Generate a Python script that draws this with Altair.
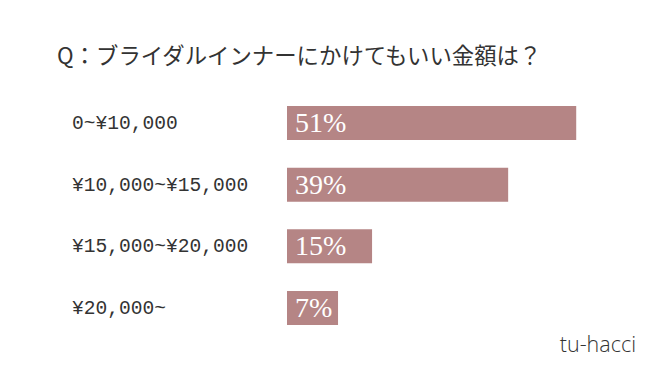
import altair as alt
import pandas as pd

categories = ["0~¥10,000", "¥10,000~¥15,000", "¥15,000~¥20,000", "¥20,000~"]
values = [51, 39, 15, 7]
labels = ["51%", "39%", "15%", "7%"]
title_text = ["Q：ブライダルインナーにかけてもいい金額は？"]
credit_text = ["tu-hacci"]

df = pd.DataFrame({"cat": categories, "value": values, "label": labels})

W, H = 634, 349
xscale = alt.Scale(domain=[0, 62.6], range=[279, W])
yscale = alt.Scale(domain=categories, range=[84.2, 330.8], paddingInner=0.45, paddingOuter=0.225)

base = alt.Chart(df)

# minimum drawn length so the label fits inside the bar (as in the original)
bars = base.transform_calculate(
    shown="max(datum.value, 9)"
).mark_bar(color="#b58585", cornerRadius=0).encode(
    x=alt.X("shown:Q", scale=xscale, axis=None),
    x2=alt.X2(datum=0),
    y=alt.Y("cat:N", scale=yscale, axis=None, sort=categories),
)

pct = base.mark_text(
    align="left", baseline="middle", font="Liberation Serif", fontSize=28,
    color="white", dx=8, dy=1,
).encode(
    x=alt.X(datum=0, scale=xscale),
    y=alt.Y("cat:N", scale=yscale, sort=categories),
    text="label:N",
)

cats = base.mark_text(
    align="left", baseline="middle", font="Liberation Mono", fontSize=19.6,
    color="#333333",
).encode(
    x=alt.value(64),
    y=alt.Y("cat:N", scale=yscale, sort=categories),
    text="cat:N",
)

title = alt.Chart(pd.DataFrame({"t": title_text})).mark_text(
    align="left", baseline="middle", font="Noto Sans CJK JP", fontSize=22.4,
    color="#333333",
).encode(x=alt.value(49), y=alt.value(48.5), text="t:N")

credit = alt.Chart(pd.DataFrame({"t": credit_text})).mark_text(
    align="right", baseline="middle", font="Open Sans", fontSize=21.5,
    fontWeight=300, color="#333333",
).encode(x=alt.value(628), y=alt.value(338), text="t:N")

chart = alt.layer(bars, pct, cats, title, credit).properties(
    width=W, height=H,
    autosize=alt.AutoSizeParams(type="none"),
    padding=0,
).configure_view(stroke=None)

chart.save("out.html", embed_options={"renderer": "svg", "actions": False})
